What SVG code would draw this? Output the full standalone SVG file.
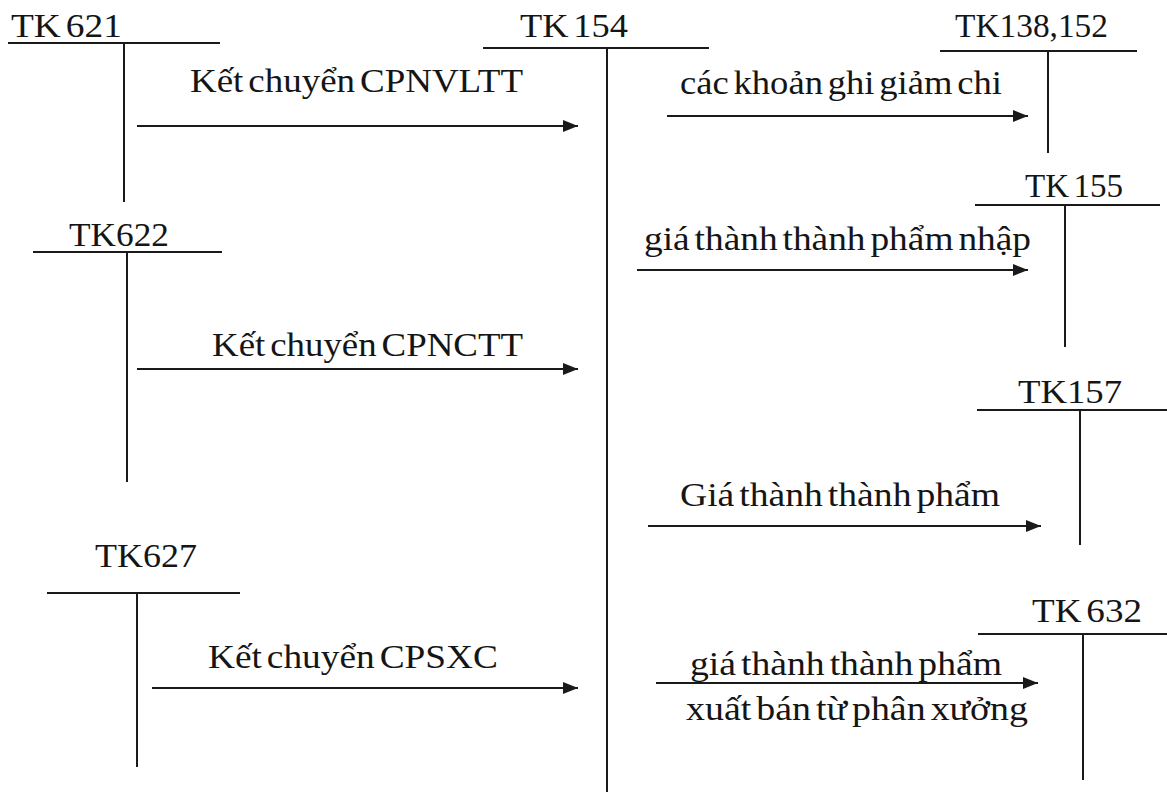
<svg xmlns="http://www.w3.org/2000/svg" width="1167" height="792" viewBox="0 0 1167 792">
  <style>
    .t { font-family: "Liberation Serif", "Times New Roman", serif; font-size: 34px; fill: #151515; word-spacing: -4px; }
    .acc { stroke: #1a1a1a; stroke-width: 2; fill: none; }
    .flow { stroke: #1a1a1a; stroke-width: 2; fill: none; marker-end: url(#head); }
  </style>
  <defs>
    <marker id="head" markerUnits="userSpaceOnUse" markerWidth="15" markerHeight="12" refX="15" refY="6" orient="auto">
      <path d="M0,0 L15,6 L0,12 Z" fill="#1a1a1a"/>
    </marker>
  </defs>
  <rect width="1167" height="792" fill="#ffffff"/>

  <!-- T-accounts -->
  <g id="tk621">
    <text class="t" x="11" y="37" textLength="111" lengthAdjust="spacingAndGlyphs">TK 621</text>
    <path class="acc" d="M8,43 H220 M124,43 V202"/>
  </g>
  <g id="tk154">
    <text class="t" x="520" y="37" textLength="108" lengthAdjust="spacingAndGlyphs">TK 154</text>
    <path class="acc" d="M483,48 H709 M607,48 V792"/>
  </g>
  <g id="tk138-152">
    <text class="t" x="955" y="37" textLength="153" lengthAdjust="spacingAndGlyphs">TK138,152</text>
    <path class="acc" d="M940,51 H1137 M1048,51 V153"/>
  </g>
  <g id="tk155">
    <text class="t" x="1025" y="197" textLength="98" lengthAdjust="spacingAndGlyphs">TK 155</text>
    <path class="acc" d="M975,205 H1160 M1065,205 V347"/>
  </g>
  <g id="tk622">
    <text class="t" x="69" y="246" textLength="100" lengthAdjust="spacingAndGlyphs">TK622</text>
    <path class="acc" d="M33,252 H222 M127,252 V482"/>
  </g>
  <g id="tk157">
    <text class="t" x="1018" y="403" textLength="104" lengthAdjust="spacingAndGlyphs">TK157</text>
    <path class="acc" d="M977,410 H1167 M1080,410 V545"/>
  </g>
  <g id="tk627">
    <text class="t" x="95" y="567" textLength="102" lengthAdjust="spacingAndGlyphs">TK627</text>
    <path class="acc" d="M47,593 H240 M137,593 V767"/>
  </g>
  <g id="tk632">
    <text class="t" x="1032" y="622" textLength="110" lengthAdjust="spacingAndGlyphs">TK 632</text>
    <path class="acc" d="M978,634 H1167 M1083,634 V780"/>
  </g>

  <!-- Transfers between accounts -->
  <g id="connectors">
    <line class="flow" x1="137" y1="126" x2="578" y2="126"/>
    <line class="flow" x1="137" y1="369" x2="578" y2="369"/>
    <line class="flow" x1="152" y1="688" x2="578" y2="688"/>
    <line class="flow" x1="667" y1="116" x2="1028" y2="116"/>
    <line class="flow" x1="637" y1="270" x2="1028" y2="270"/>
    <line class="flow" x1="648" y1="526" x2="1041" y2="526"/>
    <line class="flow" x1="656" y1="683" x2="1038" y2="683"/>
  </g>

  <!-- Transfer labels -->
  <g id="labels">
    <text class="t" x="190" y="92" textLength="333" lengthAdjust="spacingAndGlyphs">Kết chuyển CPNVLTT</text>
    <text class="t" x="212" y="356" textLength="311" lengthAdjust="spacingAndGlyphs">Kết chuyển CPNCTT</text>
    <text class="t" x="208" y="668" textLength="290" lengthAdjust="spacingAndGlyphs">Kết chuyển CPSXC</text>
    <text class="t" x="680" y="94" textLength="322" lengthAdjust="spacingAndGlyphs">các khoản ghi giảm chi</text>
    <text class="t" x="644" y="250" textLength="387" lengthAdjust="spacingAndGlyphs">giá thành thành phẩm nhập</text>
    <text class="t" x="680" y="506" textLength="320" lengthAdjust="spacingAndGlyphs">Giá thành thành phẩm</text>
    <text class="t" x="690" y="675" textLength="312" lengthAdjust="spacingAndGlyphs">giá thành thành phẩm</text>
    <text class="t" x="686" y="720" textLength="342" lengthAdjust="spacingAndGlyphs">xuất bán từ phân xưởng</text>
  </g>
</svg>
